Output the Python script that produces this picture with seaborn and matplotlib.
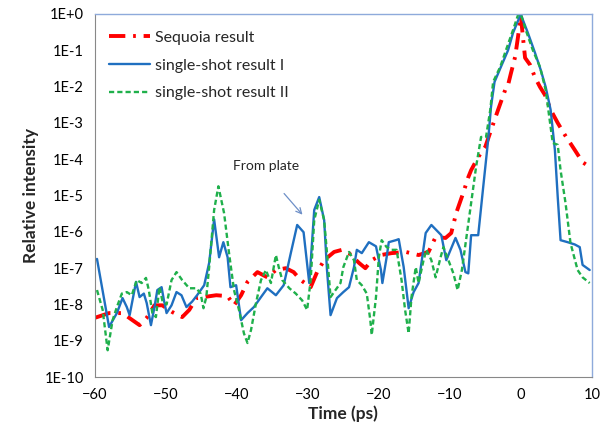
import numpy as np
import pandas as pd
import seaborn as sns
import matplotlib
matplotlib.use("Agg")
import matplotlib.pyplot as plt
from matplotlib.ticker import FixedLocator, FixedFormatter, NullLocator

# --- data (time in ps, relative intensity) ---
sequoia_t = [-60, -58.0, -56.1, -54.7, -53.7, -52.7, -51.6, -50.5, -49.1, -47.7,
             -46.7, -45.7, -42.9, -41.3, -40.4, -39.4, -38.5, -37.1, -35.7, -34.5,
             -33.1, -32.0, -31.0, -29.6, -28.7, -27.7, -26.3, -25.2, -24.2, -22.8,
             -21.9, -21.0, -19.7, -18.2, -16.2, -14.4, -13.0, -12.0, -10.6, -9.8,
             -9.1, -8.1, -7.4, -7.0, -6.0, -5.0, -4.2, -3.2, -2.2, -1.8,
             -1.4, -0.8, -0.4, 0.0, 0.3, 0.6, 1.3, 2.0, 2.7, 3.4,
             4.2, 5.2, 6.2, 7.6, 8.7, 10.0]
sequoia_i = [4.3e-9, 5.8e-9, 5.8e-9, 3.7e-9, 2.7e-9, 4.3e-9, 9.5e-9, 9.5e-9, 6.2e-9, 4.5e-9,
             7.1e-9, 1.5e-8, 1.8e-8, 1.7e-8, 9.5e-9, 1.8e-8, 4.2e-8, 7.8e-8, 5.6e-8, 8.9e-8,
             1.0e-7, 7.8e-8, 4.7e-8, 3.0e-8, 7.8e-8, 1.66e-7, 2.8e-7, 3.2e-7, 2.6e-7, 1.4e-7,
             1.0e-7, 1.66e-7, 2.3e-7, 2.6e-7, 2.8e-7, 2.3e-7, 2.8e-7, 7.2e-7, 6.8e-7, 9.3e-7,
             3.3e-6, 1.2e-5, 3.2e-5, 5.0e-5, 1.15e-4, 2.2e-4, 6.3e-4, 2.3e-3, 8.1e-3, 1.1e-2,
             2.3e-2, 6.6e-2, 2.3e-1, 0.9, 2.3e-1, 6.2e-2, 4.0e-2, 1.8e-2, 9.8e-3, 5.9e-3,
             2.3e-3, 1.0e-3, 4.7e-4, 1.8e-4, 8.3e-5, 5.6e-5]

shot1_t = [-59.7, -58.0, -56.9, -56.1, -55.5, -55.1, -54.2, -53.7, -53.1, -52.7,
           -52.1, -51.6, -51.2, -50.6, -50.3, -49.9, -49.2, -48.5, -47.8, -47.1,
           -46.3, -45.6, -44.6, -43.9, -43.2, -42.5, -41.9, -41.3, -40.9, -40.1,
           -39.4, -38.5, -37.6, -36.6, -35.7, -34.5, -33.4, -32.4, -31.5, -30.6,
           -29.8, -29.1, -28.4, -27.7, -27.3, -26.8, -25.9, -25.0, -24.2, -23.5,
           -23.1, -22.4, -21.4, -20.4, -19.7, -19.5, -18.9, -18.6, -17.6, -17.2,
           -16.5, -15.8, -15.1, -14.4, -13.4, -12.6, -11.2, -10.5, -9.2, -8.5,
           -7.8, -7.4, -7.0, -6.0, -5.3, -4.6, -4.2, -3.7, -2.8, -1.8,
           -1.1, 0.0, 0.3, 1.0, 2.0, 2.8, 3.5, 4.2, 4.8, 5.2,
           5.6, 6.6, 7.6, 8.3, 8.7, 9.7]
shot1_i = [1.8e-7, 2.4e-9, 5.8e-9, 1.5e-8, 8.5e-9, 5.1e-9, 4.2e-8, 1.6e-8, 2.0e-8, 1.1e-8,
           2.7e-9, 8.5e-9, 2.5e-8, 3.0e-8, 1.4e-8, 5.8e-9, 9.5e-9, 2.2e-8, 1.8e-8, 8.5e-9,
           1.2e-8, 1.8e-8, 3.4e-8, 1.4e-7, 2.2e-6, 2.0e-7, 5.2e-7, 2.0e-7, 3.0e-8, 3.4e-8,
           3.7e-9, 5.8e-9, 8.5e-9, 1.6e-8, 2.8e-8, 1.8e-8, 3.4e-8, 2.6e-7, 1.55e-6, 9.8e-7,
           3.9e-8, 4.0e-6, 9.1e-6, 2.1e-6, 8.9e-8, 5.1e-9, 1.5e-8, 2.2e-8, 3.0e-8, 1.07e-7,
           3.2e-7, 2.6e-7, 5.2e-7, 4.0e-7, 8.9e-8, 3.9e-8, 2.0e-7, 5.2e-7, 5.9e-7, 6.3e-7,
           1.07e-7, 7.9e-9, 2.2e-8, 3.9e-8, 9.3e-7, 1.55e-6, 8.1e-7, 1.66e-7, 6.8e-7, 3.2e-7,
           7.8e-8, 7.2e-8, 8.1e-7, 8.1e-7, 1.7e-5, 3.4e-4, 2.75e-3, 1.35e-2, 3.5e-2, 1.0e-1,
           3.0e-1, 1.0, 0.68, 0.30, 8.5e-2, 2.9e-2, 9.8e-3, 2.3e-3, 1.8e-4, 9.1e-6,
           5.9e-7, 5.2e-7, 4.5e-7, 3.8e-7, 1.23e-7, 8.9e-8]

shot2_t = [-59.7, -58.9, -58.2, -57.5, -56.9, -56.2, -55.5, -54.8, -54.1, -53.4,
           -52.8, -52.4, -51.9, -51.4, -50.9, -50.5, -49.9, -49.2, -48.5, -47.7,
           -46.7, -45.7, -45.1, -44.7, -44.3, -43.9, -43.2, -42.6, -41.8, -41.1,
           -40.4, -39.7, -39.0, -38.5, -38.0, -37.3, -36.6, -35.9, -35.2, -34.5,
           -34.1, -33.6, -32.6, -31.7, -30.8, -30.1, -29.6, -29.1, -28.4, -27.7,
           -27.3, -26.8, -26.1, -25.4, -25.0, -24.2, -23.5, -23.1, -22.4, -21.7,
           -21.2, -21.0, -20.4, -20.0, -19.6, -18.9, -18.2, -17.5, -16.8, -16.3,
           -15.8, -15.4, -14.8, -14.4, -13.7, -13.3, -12.6, -12.0, -11.3, -10.9,
           -10.2, -9.5, -8.9, -8.3, -7.8, -7.0, -6.3, -5.6, -4.9, -4.3,
           -3.9, -2.9, -2.1, -1.1, -0.4, 0.0, 0.7, 1.7, 2.7, 3.5,
           4.5, 5.2, 5.6, 6.3, 7.0, 8.0, 8.7, 9.7]
shot2_i = [2.5e-8, 7.1e-9, 5.5e-10, 3.7e-9, 8.5e-9, 2.0e-8, 2.2e-8, 1.8e-8, 4.7e-8, 3.9e-8,
           5.4e-8, 2.5e-8, 5.8e-9, 4.5e-9, 3.0e-8, 1.3e-8, 1.0e-8, 4.7e-8, 7.8e-8, 4.7e-8,
           2.8e-8, 2.8e-8, 2.0e-8, 7.9e-9, 1.6e-8, 1.07e-7, 4.0e-6, 1.8e-5, 3.3e-6, 2.6e-7,
           2.5e-8, 7.1e-9, 1.6e-9, 8.7e-10, 2.0e-9, 1.1e-8, 4.7e-8, 8.9e-8, 3.9e-8, 2.3e-7,
           1.07e-7, 4.7e-8, 2.8e-8, 2.0e-8, 1.3e-8, 7.1e-9, 4.7e-8, 2.1e-6, 7.6e-6, 2.1e-6,
           2.6e-7, 1.6e-8, 2.5e-8, 3.9e-8, 1.07e-7, 2.8e-7, 1.66e-7, 4.7e-8, 3.4e-8, 2.0e-8,
           3.7e-9, 1.45e-9, 1.6e-8, 2.0e-7, 5.9e-7, 3.8e-7, 3.2e-7, 3.2e-7, 4.7e-8, 7.1e-9,
           1.6e-9, 1.6e-8, 1.07e-7, 3.9e-8, 1.66e-7, 3.2e-7, 1.66e-7, 5.6e-8, 2.0e-7, 3.8e-7,
           1.66e-7, 7.2e-8, 2.5e-8, 8.9e-8, 4.5e-7, 6.2e-6, 6.2e-5, 4.1e-4, 4.1e-4, 2.3e-3,
           1.35e-2, 3.5e-2, 1.0e-1, 3.6e-1, 0.93, 1.0, 3.6e-1, 1.0e-1, 3.5e-2, 8.1e-3,
           2.8e-4, 2.5e-4, 5.0e-5, 6.2e-6, 4.9e-7, 8.9e-8, 5.6e-8, 3.9e-8]

y_ticks = [1e0, 1e-1, 1e-2, 1e-3, 1e-4, 1e-5, 1e-6, 1e-7, 1e-8, 1e-9, 1e-10]
y_tick_labels = ["1E+0", "1E-1", "1E-2", "1E-3", "1E-4", "1E-5",
                 "1E-6", "1E-7", "1E-8", "1E-9", "1E-10"]
x_ticks = [-60, -50, -40, -30, -20, -10, 0, 10]

sns.set_style("white")
plt.rcParams['font.family'] = ['Lato', 'DejaVu Sans']

fig = plt.figure(figsize=(6.12, 4.37), dpi=100)
ax = fig.add_axes([0.155, 0.137, 0.812, 0.831])

sns.lineplot(x=sequoia_t, y=sequoia_i, ax=ax, color="#FF0000", linewidth=2.8,
             linestyle=(0, (4.2, 2.0, 0.7, 2.0)), label="Sequoia result",
             sort=False, estimator=None)
sns.lineplot(x=shot1_t, y=shot1_i, ax=ax, color="#1F6FC0", linewidth=1.7,
             label="single-shot result I", sort=False, estimator=None)
sns.lineplot(x=shot2_t, y=shot2_i, ax=ax, color="#1FB04B", linewidth=1.7,
             linestyle=(0, (2.2, 1.3)), label="single-shot result II",
             sort=False, estimator=None)

ax.set_yscale("log")
ax.set_xlim(-60, 10)
ax.set_ylim(1e-10, 1e0)
ax.yaxis.set_major_locator(FixedLocator(y_ticks))
ax.yaxis.set_major_formatter(FixedFormatter(y_tick_labels))
ax.yaxis.set_minor_locator(NullLocator())
ax.set_xticks(x_ticks)
ax.tick_params(axis="both", labelsize=10.5, colors="#888888", length=4,
               width=0.8, direction="out", pad=4)
ax.tick_params(axis="both", labelcolor="black")

for side in ["left", "bottom"]:
    ax.spines[side].set_color("#888888")
for side in ["top", "right"]:
    ax.spines[side].set_color("#8EAADB")
    ax.spines[side].set_linewidth(1.0)

ax.set_xlabel("Time (ps)", fontsize=12.5, fontweight="bold", labelpad=2)
ax.set_ylabel("Relative intensity", fontsize=12.5, fontweight="bold", labelpad=4)

ax.annotate("From plate", xy=(-30.5, 2.6e-6), xytext=(-40.6, 6.5e-5),
            fontsize=10, va="center", ha="left")
ax.annotate("", xy=(-30.5, 2.6e-6), xytext=(-33.6, 1.3e-5),
            arrowprops=dict(arrowstyle="->", color="#6D8FC7", lw=0.9))

leg = ax.legend(loc="upper left", frameon=False, fontsize=11.5,
                handlelength=2.6, handletextpad=0.3, labelspacing=0.85,
                borderaxespad=0.3, bbox_to_anchor=(0.005, 0.985))

fig.savefig("out.png", dpi=100)
